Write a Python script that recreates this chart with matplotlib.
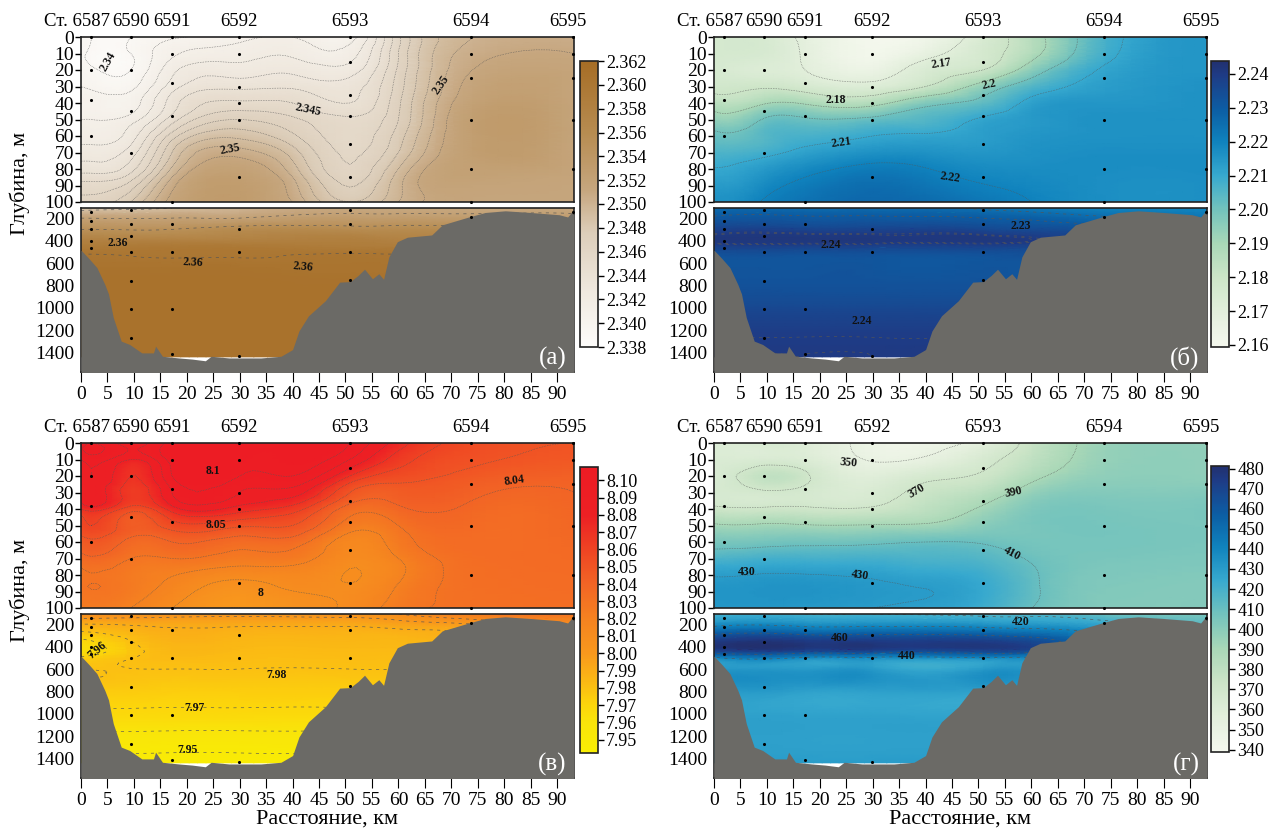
import numpy as np
import matplotlib
matplotlib.use('Agg')
import matplotlib.pyplot as plt
from matplotlib.colors import LinearSegmentedColormap
from matplotlib.tri import Triangulation, UniformTriRefiner

plt.rcParams['font.family'] = ['Liberation Serif', 'DejaVu Serif']

W, H = 1274, 831

# Stations
st_names = ['6587', '6590', '6591', '6592', '6593', '6594', '6595']
st_km = [1.9, 9.4, 17.2, 29.9, 50.8, 73.7, 93.0]
st_upper = [[0, 20, 38, 60], [0, 20, 45, 70], [0, 10, 28, 48, 100], [0, 10, 30, 40, 50, 85],
            [0, 15, 35, 48, 65, 85], [0, 10, 25, 50, 80, 100], [0, 10, 25, 50, 80]]
st_lower = [[150, 230, 300, 400, 470], [125, 250, 360, 500, 760, 1010, 1270], [250, 500, 1010, 1410],
            [300, 500, 1430], [130, 250, 500, 750], [190], [150]]

# Bottom profile
bottom_km = [0, 1.5, 3, 4.5, 5.2, 6.1, 7.6, 9.2, 11.5, 13.7, 14.1, 15.4, 18.5, 21, 23.5, 24.6, 28, 34, 37.8, 40,
             41.2, 43, 46.2, 48.9, 50.9, 52.4, 53.6, 55.1, 56.3, 57.2, 58.2, 59.8, 61.7, 66.3, 68.3, 73.3,
             76.4, 80.2, 85, 90.4, 92, 92.7, 93.2]
bottom_m = [485, 560, 640, 790, 875, 1085, 1295, 1325, 1400, 1400, 1340, 1430, 1445, 1455, 1470, 1430, 1445, 1445,
            1430, 1370, 1205, 1070, 935, 770, 765, 710, 655, 740, 695, 745, 545, 410, 370, 350, 260, 190,
            150, 135, 150, 170, 190, 150, 170]

# Value grids
up_km = [0, 2, 9.4, 17.2, 30, 40, 50.8, 60, 74, 93.2]
up_depth = [0, 10, 20, 30, 40, 50, 60, 70, 85, 100]
low_km = [0, 17.2, 30, 50.8, 60, 74, 93.2]
low_depth = [110, 200, 300, 400, 450, 500, 600, 800, 1000, 1200, 1435]

a_up = [[2.3395, 2.339, 2.339, 2.3398, 2.3405, 2.341, 2.3405, 2.3458, 2.350, 2.3505],
        [2.3392, 2.3388, 2.339, 2.3408, 2.3415, 2.3418, 2.3415, 2.346, 2.3505, 2.351],
        [2.3395, 2.3392, 2.339, 2.3417, 2.3425, 2.3428, 2.3425, 2.3462, 2.351, 2.3515],
        [2.340, 2.3398, 2.3397, 2.3425, 2.3437, 2.3438, 2.3435, 2.3465, 2.3515, 2.3515],
        [2.3405, 2.3405, 2.3405, 2.3435, 2.3452, 2.345, 2.344, 2.3468, 2.352, 2.3515],
        [2.341, 2.341, 2.3415, 2.3445, 2.347, 2.3462, 2.3452, 2.347, 2.3525, 2.3515],
        [2.3415, 2.3415, 2.3425, 2.3465, 2.3487, 2.3472, 2.3455, 2.3475, 2.3525, 2.3515],
        [2.3425, 2.3425, 2.3435, 2.348, 2.3505, 2.3485, 2.3458, 2.348, 2.3525, 2.3515],
        [2.3445, 2.3445, 2.3455, 2.350, 2.3525, 2.350, 2.3465, 2.3495, 2.352, 2.3515],
        [2.3465, 2.3465, 2.348, 2.3515, 2.353, 2.351, 2.348, 2.350, 2.3515, 2.3515]]
a_low = [[2.348, 2.349, 2.350, 2.351, 2.351, 2.351, 2.351],
         [2.352, 2.352, 2.352, 2.353, 2.353, 2.353, 2.353],
         [2.355, 2.355, 2.356, 2.356, 2.356, 2.356, 2.356],
         [2.358, 2.358, 2.358, 2.3585, 2.358, 2.358, 2.358],
         [2.359, 2.3595, 2.3595, 2.359, 2.359, 2.359, 2.359],
         [2.360, 2.360, 2.360, 2.360, 2.360, 2.360, 2.360],
         [2.3605, 2.3605, 2.3605, 2.3605, 2.3605, 2.3605, 2.3605],
         [2.361, 2.361, 2.361, 2.361, 2.361, 2.361, 2.361],
         [2.361, 2.361, 2.361, 2.361, 2.361, 2.361, 2.361],
         [2.361, 2.361, 2.361, 2.361, 2.361, 2.361, 2.361],
         [2.361, 2.361, 2.361, 2.361, 2.361, 2.361, 2.361]]

b_up = [[2.176, 2.176, 2.175, 2.168, 2.160, 2.162, 2.174, 2.186, 2.207, 2.215],
        [2.176, 2.176, 2.175, 2.169, 2.161, 2.167, 2.176, 2.187, 2.208, 2.215],
        [2.176, 2.175, 2.173, 2.170, 2.165, 2.174, 2.180, 2.195, 2.211, 2.215],
        [2.178, 2.178, 2.179, 2.176, 2.173, 2.180, 2.194, 2.205, 2.213, 2.216],
        [2.185, 2.184, 2.189, 2.189, 2.187, 2.197, 2.203, 2.212, 2.215, 2.216],
        [2.194, 2.193, 2.2005, 2.201, 2.202, 2.205, 2.211, 2.214, 2.216, 2.216],
        [2.202, 2.201, 2.2045, 2.207, 2.210, 2.211, 2.213, 2.215, 2.216, 2.216],
        [2.206, 2.206, 2.208, 2.212, 2.216, 2.216, 2.215, 2.216, 2.217, 2.217],
        [2.212, 2.212, 2.216, 2.220, 2.224, 2.222, 2.219, 2.218, 2.217, 2.217],
        [2.216, 2.216, 2.2205, 2.224, 2.227, 2.226, 2.223, 2.220, 2.217, 2.217]]
b_low = [[2.226, 2.226, 2.226, 2.224, 2.222, 2.220, 2.219],
         [2.231, 2.231, 2.231, 2.230, 2.229, 2.226, 2.224],
         [2.237, 2.237, 2.237, 2.236, 2.235, 2.232, 2.230],
         [2.241, 2.241, 2.241, 2.241, 2.240, 2.235, 2.232],
         [2.238, 2.238, 2.238, 2.238, 2.237, 2.235, 2.232],
         [2.234, 2.234, 2.234, 2.234, 2.234, 2.234, 2.232],
         [2.232, 2.232, 2.232, 2.232, 2.232, 2.232, 2.232],
         [2.233, 2.233, 2.233, 2.233, 2.233, 2.233, 2.233],
         [2.236, 2.236, 2.236, 2.236, 2.236, 2.236, 2.236],
         [2.239, 2.239, 2.239, 2.239, 2.239, 2.239, 2.239],
         [2.240, 2.240, 2.240, 2.240, 2.240, 2.240, 2.240]]

c_up = [[8.095, 8.10, 8.085, 8.105, 8.105, 8.105, 8.10, 8.075, 8.055, 8.05],
        [8.09, 8.095, 8.08, 8.105, 8.105, 8.105, 8.09, 8.065, 8.052, 8.048],
        [8.085, 8.09, 8.07, 8.10, 8.10, 8.10, 8.07, 8.055, 8.047, 8.043],
        [8.08, 8.085, 8.065, 8.09, 8.09, 8.085, 8.05, 8.045, 8.042, 8.04],
        [8.07, 8.075, 8.055, 8.075, 8.075, 8.065, 8.035, 8.038, 8.038, 8.039],
        [8.057, 8.06, 8.045, 8.055, 8.052, 8.05, 8.025, 8.03, 8.036, 8.038],
        [8.045, 8.048, 8.037, 8.04, 8.035, 8.035, 8.015, 8.025, 8.035, 8.037],
        [8.036, 8.038, 8.03, 8.03, 8.025, 8.025, 8.012, 8.02, 8.034, 8.036],
        [8.029, 8.03, 8.025, 8.018, 8.008, 8.012, 8.01, 8.02, 8.033, 8.035],
        [8.023, 8.024, 8.02, 8.01, 8.0, 8.005, 8.012, 8.025, 8.032, 8.034]]
c_low = [[8.01, 8.005, 8.003, 8.005, 8.01, 8.025, 8.03],
         [7.99, 7.992, 7.992, 7.992, 7.995, 8.0, 8.01],
         [7.975, 7.988, 7.986, 7.986, 7.986, 7.99, 7.995],
         [7.962, 7.985, 7.984, 7.984, 7.984, 7.986, 7.99],
         [7.962, 7.984, 7.983, 7.983, 7.983, 7.985, 7.988],
         [7.972, 7.983, 7.982, 7.982, 7.982, 7.984, 7.986],
         [7.98, 7.98, 7.98, 7.98, 7.98, 7.98, 7.98],
         [7.974, 7.974, 7.974, 7.974, 7.974, 7.974, 7.974],
         [7.968, 7.968, 7.968, 7.968, 7.968, 7.968, 7.968],
         [7.957, 7.957, 7.957, 7.957, 7.957, 7.957, 7.957],
         [7.947, 7.947, 7.947, 7.947, 7.947, 7.947, 7.947]]

d_up = [[362, 362, 365, 360, 346, 345, 355, 375, 395, 397],
        [363, 363, 364, 362, 349, 352, 365, 379, 396, 398],
        [364, 366, 378, 372, 358, 366, 372, 386, 398, 398],
        [366, 366, 368, 367, 364, 374, 382, 396, 402, 402],
        [373, 372, 372, 372, 372, 380, 392, 403, 405, 405],
        [392, 391, 392, 391, 391, 392, 400, 405, 406, 405],
        [405, 405, 406, 407, 408, 410, 409, 406, 406, 405],
        [418, 418, 420, 420, 420, 418, 416, 409, 405, 404],
        [432, 432, 433, 433, 431, 429, 424, 412, 403, 402],
        [432, 432, 432, 431, 430, 428, 422, 410, 402, 402]]
d_low = [[420, 420, 420, 417, 417, 410, 406],
         [435, 435, 435, 433, 431, 425, 414],
         [462, 462, 462, 460, 456, 440, 430],
         [478, 478, 478, 477, 472, 450, 440],
         [465, 465, 465, 465, 462, 450, 440],
         [438, 438, 438, 438, 438, 438, 438],
         [431, 431, 431, 431, 431, 431, 431],
         [428, 428, 428, 428, 428, 428, 428],
         [427, 427, 427, 427, 427, 427, 427],
         [428, 428, 428, 428, 428, 428, 428],
         [430, 430, 430, 430, 430, 430, 430]]

# Colour bars
a_ticks = [2.338, 2.340, 2.342, 2.344, 2.346, 2.348, 2.350, 2.352, 2.354, 2.356, 2.358, 2.360, 2.362]
b_ticks = [2.16, 2.17, 2.18, 2.19, 2.20, 2.21, 2.22, 2.23, 2.24]
c_ticks = [7.95, 7.96, 7.97, 7.98, 7.99, 8.00, 8.01, 8.02, 8.03, 8.04, 8.05, 8.06, 8.07, 8.08, 8.09, 8.10]
d_ticks = [340, 350, 360, 370, 380, 390, 400, 410, 420, 430, 440, 450, 460, 470, 480]

brown = [(0, '#fdfcfa'), (0.2, '#efe8de'), (0.4, '#dccdb9'), (0.55, '#c6a67e'), (0.75, '#b78c51'), (1, '#a66d25')]
bluegreen = [(0, '#f5f8ee'), (0.12, '#e3efdc'), (0.24, '#cde5c8'), (0.36, '#a9d8b7'), (0.48, '#73c3bd'),
             (0.6, '#37a9cf'), (0.72, '#0f82bd'), (0.83, '#0c5ea4'), (0.95, '#1e3c86'), (1, '#22306f')]
redyellow = [(0, '#f9ee03'), (0.107, '#f9e40a'), (0.167, '#fcd60b'), (0.228, '#fbc012'), (0.349, '#f8981d'),
             (0.47, '#f58220'), (0.59, '#f26525'), (0.71, '#ef4423'), (0.832, '#ed2024'), (1, '#ed1c24')]

# Contour labels: text, km, depth, rotation
a_labels = [('2.34', 5.2, 15, 60), ('2.345', 43, 44, -12), ('2.35', 28.2, 68, 10), ('2.35', 68, 29, 55),
            ('2.36', 7, 425, 0), ('2.36', 21.2, 596, -3), ('2.36', 42, 635, -5)]
b_labels = [('2.17', 43, 16, 8), ('2.18', 23, 38, 0), ('2.2', 52, 29, 12), ('2.21', 24, 64, 8), ('2.22', 44.6, 85, -8),
            ('2.24', 22, 440, 0), ('2.24', 28, 1113, 0), ('2.23', 58, 270, 0)]
c_labels = [('8.1', 25, 17, 0), ('8.05', 25.6, 50, 0), ('8', 34, 91, 0), ('8.04', 82, 23, 8),
            ('7.96', 3, 430, 40), ('7.98', 37, 653, 0), ('7.97', 21.4, 945, 0), ('7.95', 20.2, 1320, 0)]
d_labels = [('350', 25.4, 12, -5), ('370', 38.3, 29, 30), ('390', 56.7, 30, 12), ('410', 56.3, 67, -28),
            ('430', 6.2, 78, 0), ('430', 27.7, 80, -8), ('420', 58, 185, 0), ('460', 23.7, 320, 0), ('440', 36.4, 485, 0)]

km_ticks = list(range(0, 95, 5))
up_ticks = list(range(0, 110, 10))
low_ticks = [200, 400, 600, 800, 1000, 1200, 1400]
LINE = '#555555'
GREY = '#6b6a66'
XMAX = 93.2


def px_axes(fig, left, top, right, bottom):
    return fig.add_axes([left / W, 1 - bottom / H, (right - left) / W, (bottom - top) / H])


def refined(km, depth, vals):
    # smooth the grid with matplotlib's own cubic refiner
    X, Y = np.meshgrid(km, depth)
    x, y = X.ravel(), Y.ravel()
    triangles = Triangulation(x / max(km), y / max(depth)).triangles
    tri = Triangulation(x, y, triangles)
    return UniformTriRefiner(tri).refine_field(np.array(vals, dtype=float).ravel(), subdiv=3)


def draw_labels(ax, labels, low, high):
    for txt, km, dep, rot in labels:
        if low <= dep <= high:
            ax.text(km, dep, txt, fontsize=8.5, fontweight='bold', rotation=rot, ha='center', va='center',
                    color='#111111', zorder=6)


def panel(fig, left, top, up_vals, low_vals, up_levels, low_levels, colors, ticks, vlim, fmt, labels, letter, cb_left, cb_top):
    right = left + 493
    cmap = LinearSegmentedColormap.from_list('c', colors)
    vmin, vmax = vlim

    # upper part, 0-100 m
    ax = px_axes(fig, left, top, right, top + 165)
    tri, z = refined(up_km, up_depth, up_vals)
    ax.tripcolor(tri, z, shading='gouraud', cmap=cmap, vmin=vmin, vmax=vmax)
    ax.tricontour(tri, z, levels=up_levels, colors=LINE, linewidths=0.45, linestyles=':')
    for km, deps in zip(st_km, st_upper):
        ax.scatter([km] * len(deps), deps, s=5, color='black', zorder=5, clip_on=False, linewidths=0)
    draw_labels(ax, labels, 0, 100)
    ax.set_xlim(0, XMAX)
    ax.set_ylim(100, 0)
    ax.set_yticks(up_ticks)
    ax.set_xticks([])
    ax.tick_params(axis='y', labelsize=14, length=4, width=1, pad=1)
    for s in ax.spines.values():
        s.set_linewidth(1.2)
        s.set_color('#222222')

    # station names
    for i, (name, km) in enumerate(zip(st_names, st_km)):
        if i == 0:
            ax.text(km + 3.5, -9.5, 'Ст. ' + name, fontsize=13.5, ha='right', va='center', clip_on=False)
        else:
            ax.text(min(km, 92), -9.5, name, fontsize=13.5, ha='center', va='center', clip_on=False)

    # lower part, 110 m to bottom
    ax2 = px_axes(fig, left, top + 171, right, top + 335)
    ax2.set_facecolor('white')
    tri2, z2 = refined(low_km, low_depth, low_vals)
    ax2.tripcolor(tri2, z2, shading='gouraud', cmap=cmap, vmin=vmin, vmax=vmax)
    ax2.tricontour(tri2, z2, levels=low_levels, colors=LINE, linewidths=0.45, linestyles=[(0, (5, 7))])
    ax2.fill_between(bottom_km, bottom_m, 1600, color=GREY, zorder=3, linewidth=0)
    for km, deps in zip(st_km, st_lower):
        ax2.scatter([km] * len(deps), deps, s=5, color='black', zorder=5, linewidths=0)
    draw_labels(ax2, labels, 101, 1600)
    ax2.text(0.985, 0.085, letter, transform=ax2.transAxes, color='white', fontsize=18, ha='right', va='center', zorder=6)
    ax2.set_xlim(0, XMAX)
    ax2.set_ylim(1570, 110)
    ax2.set_yticks(low_ticks)
    ax2.set_xticks(km_ticks)
    ax2.tick_params(axis='y', labelsize=14, length=0, pad=5)
    ax2.tick_params(axis='x', labelsize=14, length=7, width=0.8, pad=3)
    for s in ax2.spines.values():
        s.set_linewidth(1.2)
        s.set_color('#222222')

    # colour bar
    cax = px_axes(fig, cb_left, cb_top, cb_left + 18, cb_top + 286)
    sm = plt.cm.ScalarMappable(cmap=cmap, norm=plt.Normalize(vmin, vmax))
    cb = fig.colorbar(sm, cax=cax)
    cb.set_ticks(ticks)
    cb.set_ticklabels([fmt % t for t in ticks])
    cb.ax.tick_params(labelsize=13, length=4, width=1, pad=2)
    cb.outline.set_linewidth(1.2)
    cb.outline.set_edgecolor('#222222')


fig = plt.figure(figsize=(W / 100, H / 100), dpi=100, facecolor='white')

panel(fig, 81, 37, a_up, a_low, np.arange(2.339, 2.3515, 0.001), [2.349, 2.352, 2.355, 2.3602],
      brown, a_ticks, (2.338, 2.362), '%.3f', a_labels, '(а)', 580, 61)
panel(fig, 714, 37, b_up, b_low, [2.17, 2.18, 2.19, 2.20, 2.21, 2.22], [2.225, 2.23, 2.2395, 2.24],
      bluegreen, b_ticks, (2.1594, 2.2438), '%.2f', b_labels, '(б)', 1211, 61)
panel(fig, 81, 443, c_up, c_low, np.arange(8.0, 8.105, 0.01), [7.95, 7.96, 7.97, 7.98, 7.99, 8.0, 8.01],
      redyellow, c_ticks, (7.9423, 8.1077), '%.2f', c_labels, '(в)', 580, 467)
panel(fig, 714, 443, d_up, d_low, [350, 370, 390, 410, 430], [420, 440, 460],
      bluegreen, d_ticks, (338.8, 481.3), '%d', d_labels, '(г)', 1211, 466)

fig.text(20 / W, 1 - 183 / H, 'Глубина, м', rotation=90, fontsize=16, ha='center', va='center')
fig.text(20 / W, 1 - 590 / H, 'Глубина, м', rotation=90, fontsize=16, ha='center', va='center')
fig.text(327 / W, 1 - 819 / H, 'Расстояние, км', fontsize=16, ha='center', va='center')
fig.text(960 / W, 1 - 819 / H, 'Расстояние, км', fontsize=16, ha='center', va='center')

fig.savefig('out.png', dpi=100)
